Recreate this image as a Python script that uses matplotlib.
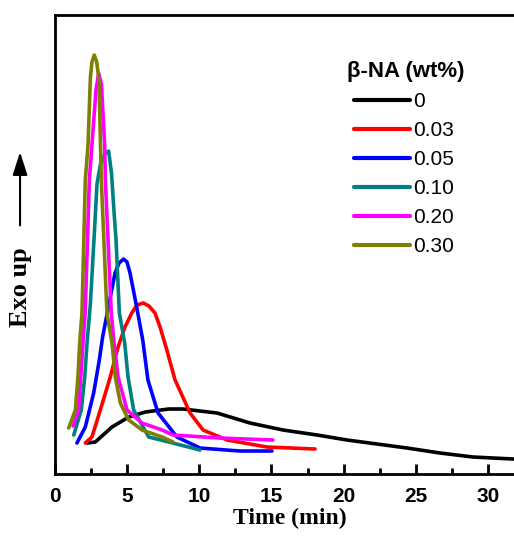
import matplotlib
matplotlib.use('Agg')
import matplotlib.pyplot as plt
from matplotlib.ticker import MultipleLocator

# DSC crystallization exotherms, heat flow in arbitrary units
labels = ['0', '0.03', '0.05', '0.10', '0.20', '0.30']
colors = ['#000000', '#ff0000', '#0000ff', '#008080', '#ff00ff', '#808000']

t_0 = [2.22, 2.79, 3.95, 5.11, 6.26, 7.88, 8.87, 11.23, 13.51, 15.80, 18.16, 20.24, 24.39, 26.68, 28.97, 31.74, 32.9]
h_0 = [31, 32, 47, 57, 62, 65, 65, 61, 51, 44, 39, 34, 26, 21, 17, 15, 15]

t_003 = [2.10, 2.56, 3.14, 3.83, 4.37, 4.85, 5.32, 5.68, 6.12, 6.51, 6.93, 7.28, 7.69, 8.32, 9.36,
         10.26, 11.92, 14.69, 18.02]
h_003 = [31, 37, 64, 97, 127, 147, 161, 169, 171, 168, 161, 147, 127, 94, 61, 44, 34, 27, 25]

t_005 = [1.52, 2.10, 2.68, 3.07, 3.30, 3.66, 4.16, 4.44, 4.75, 4.99, 5.20, 5.66, 6.08, 6.44,
         7.14, 8.45, 10.05, 12.8, 15.04]
h_005 = [31, 47, 81, 114, 137, 164, 201, 211, 215, 212, 201, 167, 134, 94, 61, 37, 26, 23, 23]

t_010 = [1.30, 1.82, 2.06, 2.22, 2.45, 2.70, 2.91, 3.15, 3.45, 3.72, 3.92, 4.10, 4.23, 4.46, 4.83,
         5.06, 5.45, 6.49, 7.88, 10.05]
h_010 = [39, 64, 97, 131, 170, 234, 290, 310, 320, 323, 300, 260, 234, 161, 131, 97, 64, 37, 32, 24]

t_020 = [1.25, 1.63, 1.94, 2.10, 2.38, 2.56, 2.84, 3.03, 3.22, 3.44, 3.49, 3.90, 4.09, 4.37, 4.99,
         6.03, 7.42, 8.18, 11.4, 15.1]
h_020 = [48, 64, 131, 164, 294, 329, 384, 401, 389, 329, 294, 161, 131, 97, 64, 51, 44, 39, 36, 34]

t_030 = [0.95, 1.41, 1.59, 1.71, 1.87, 2.10, 2.29, 2.45, 2.56, 2.72, 2.89, 3.03, 3.08, 3.21, 3.60,
         3.95, 4.18, 4.53, 5.11, 6.03, 7.42, 8.18]
h_030 = [46, 64, 97, 131, 161, 294, 329, 396, 412, 419, 412, 396, 374, 294, 161, 131, 97, 71, 54,
         44, 37, 32]

times = [t_0, t_003, t_005, t_010, t_020, t_030]
heats = [h_0, h_003, h_005, h_010, h_020, h_030]

plt.rcParams['font.family'] = ['Liberation Sans', 'DejaVu Sans']

fig = plt.figure(figsize=(5.14, 5.37), dpi=100)
ax = fig.add_axes([0.107, 0.1173, 0.9125, 0.8547])

for t, h, c, lab in zip(times, heats, colors, labels):
    ax.plot(t, h, color=c, lw=2.6, label=lab, solid_capstyle='round', solid_joinstyle='round')

ax.set_xlim(0, 32.5)
ax.set_ylim(0, 459)
ax.xaxis.set_major_locator(MultipleLocator(5))
ax.xaxis.set_minor_locator(MultipleLocator(2.5))
ax.set_yticks([])
ax.tick_params(axis='x', which='major', direction='in', length=7, width=2, labelsize=15, pad=9)
ax.tick_params(axis='x', which='minor', direction='in', length=4, width=2)
for lbl in ax.get_xticklabels():
    lbl.set_fontweight('bold')
for sp in ax.spines.values():
    sp.set_linewidth(2)

ax.set_xlabel('Time (min)', fontsize=17, fontweight='bold', family='Liberation Serif', labelpad=2)

leg = ax.legend(loc='upper left', bbox_to_anchor=(0.6157, 0.854),
                frameon=False, fontsize=15, handlelength=2.7, handletextpad=0.15,
                labelspacing=0.48, borderpad=0)
for line in leg.get_lines():
    line.set_linewidth(3)
fig.text(347 / 514, 1 - 72 / 537, '\u03b2-NA (wt%)', ha='left', va='center',
         fontsize=16, fontweight='bold')

fig.text(0.039, 0.466, 'Exo up', rotation=90, ha='center', va='center',
         fontsize=19, fontweight='bold', family='Liberation Serif')
fig.patches.append(matplotlib.patches.FancyArrowPatch(
    (0.039, 0.575), (0.039, 0.722), transform=fig.transFigure,
    arrowstyle='-|>,head_length=14,head_width=4.5', color='black', lw=1.5))

fig.savefig('out.png', dpi=100)
